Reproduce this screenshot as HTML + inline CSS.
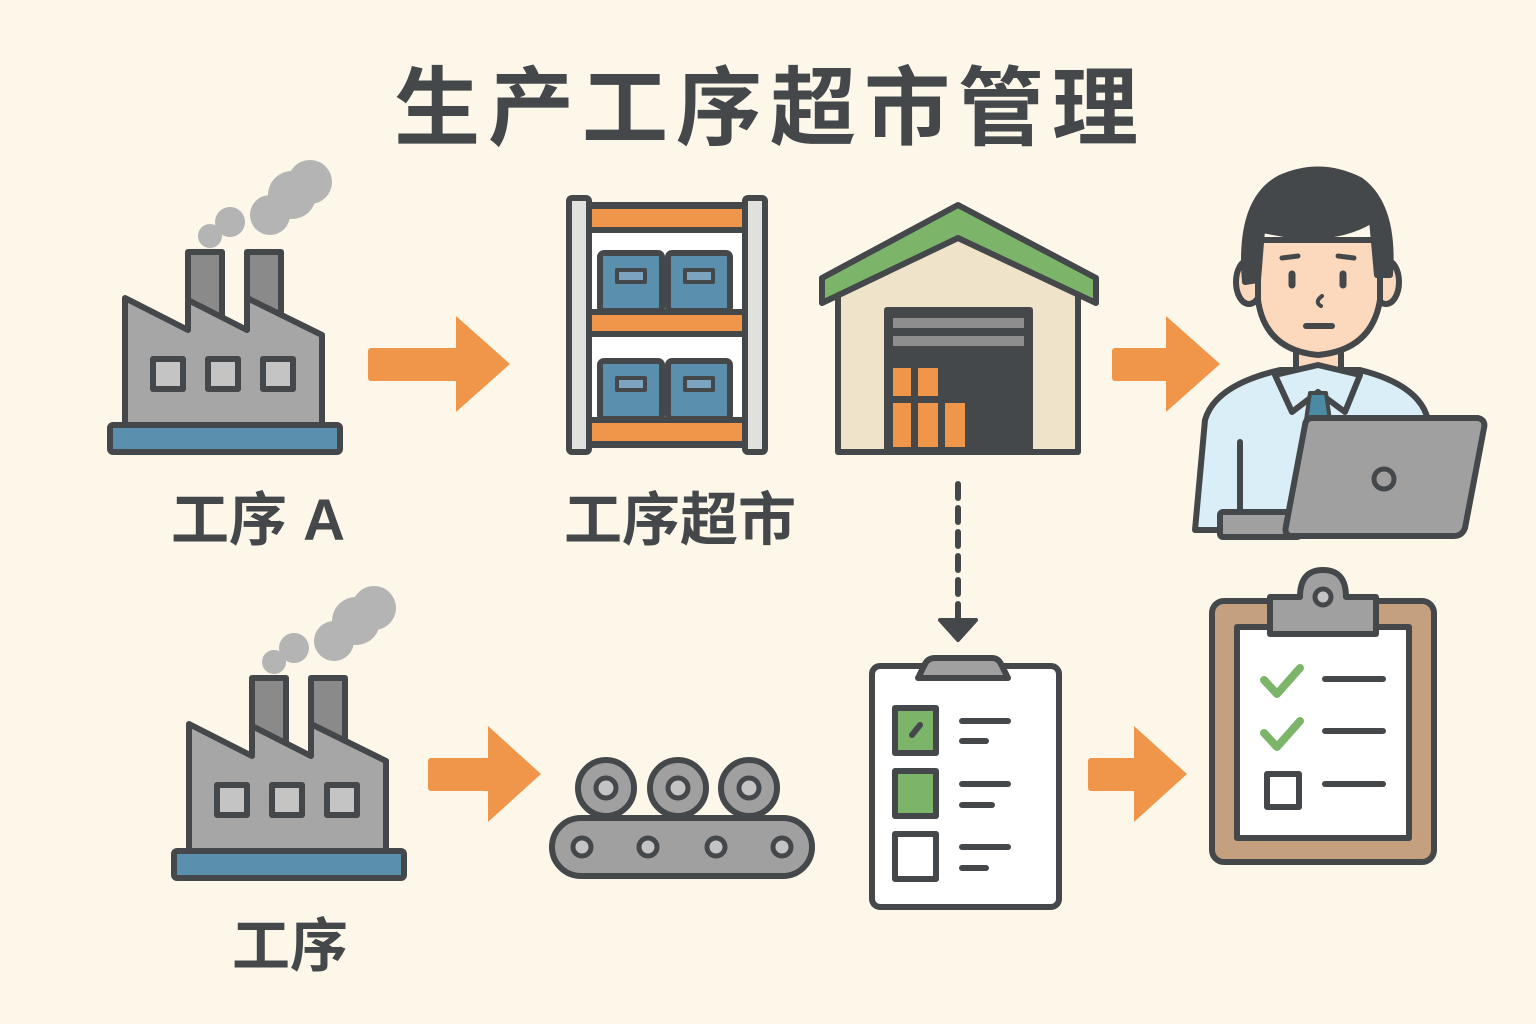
<!DOCTYPE html>
<html><head><meta charset="utf-8"><style>
html,body{margin:0;padding:0;background:#fdf7ea;}
svg{display:block}
text{font-family:"Liberation Sans","Noto Sans CJK SC",sans-serif;font-weight:bold;fill:#44484b}
</style></head><body>
<svg width="1536" height="1024" viewBox="0 0 1536 1024" xmlns="http://www.w3.org/2000/svg">
<rect width="1536" height="1024" fill="#fdf7ea"/>
<text x="770" y="138" font-size="86" text-anchor="middle" letter-spacing="8">生产工序超市管理</text>

<!-- Factory A -->
<g id="fac" stroke="#44484b" stroke-width="6" stroke-linejoin="round">
  <g fill="#b4b4b4" stroke="none">
    <circle cx="210" cy="236" r="12"/><circle cx="230" cy="222" r="15"/>
    <circle cx="270" cy="215" r="20"/><circle cx="292" cy="195" r="24"/><circle cx="310" cy="182" r="22"/>
  </g>
  <rect x="188" y="252" width="34" height="80" fill="#8a8a8a"/>
  <rect x="247" y="252" width="34" height="80" fill="#8a8a8a"/>
  <polygon points="125,425 125,298 188,330 188,300 247,330 247,298 322,335 322,425" fill="#a6a6a6"/>
  <rect x="153" y="359" width="30" height="30" fill="#c4c4c4"/>
  <rect x="208" y="359" width="30" height="30" fill="#c4c4c4"/>
  <rect x="263" y="359" width="30" height="30" fill="#c4c4c4"/>
  <rect x="110" y="425" width="230" height="27" rx="3" fill="#5b8fae"/>
</g>
<text x="258" y="540" font-size="58" text-anchor="middle">工序 A</text>

<!-- arrow1 -->
<g fill="#f0964a">
<rect x="368" y="348" width="95" height="33" rx="3"/><polygon points="456,316 510,364 456,412"/>
<rect x="1112" y="348" width="60" height="33" rx="3"/><polygon points="1166,316 1220,364 1166,412"/>
<rect x="428" y="758" width="65" height="33" rx="3"/><polygon points="488,726 541,774 488,822"/>
<rect x="1088" y="758" width="50" height="33" rx="3"/><polygon points="1134,726 1187,774 1134,822"/>
</g>

<!-- Shelf -->
<g stroke="#44484b" stroke-width="6" stroke-linejoin="round">
  <rect x="589" y="205" width="156" height="240" fill="#fff"/>
  <rect x="569" y="198" width="20" height="254" rx="3" fill="#e0e0dc"/>
  <rect x="745" y="198" width="20" height="254" rx="3" fill="#e0e0dc"/>
  <rect x="589" y="206" width="156" height="24" fill="#f0964a"/>
  <rect x="589" y="312" width="156" height="22" fill="#f0964a"/>
  <rect x="589" y="420" width="156" height="24" fill="#f0964a"/>
  <g fill="#5b8fae">
    <rect x="600" y="253" width="62" height="58" rx="4"/><rect x="668" y="253" width="62" height="58" rx="4"/>
    <rect x="600" y="361" width="62" height="58" rx="4"/><rect x="668" y="361" width="62" height="58" rx="4"/>
  </g>
  <g fill="#7aa4c0" stroke-width="4">
    <rect x="617" y="270" width="28" height="12"/><rect x="685" y="270" width="28" height="12"/>
    <rect x="617" y="378" width="28" height="12"/><rect x="685" y="378" width="28" height="12"/>
  </g>
</g>

<!-- Warehouse -->
<g stroke="#44484b" stroke-width="6" stroke-linejoin="round">
  <polygon points="838,452 838,290 958,230 1078,290 1078,452" fill="#efe3c9"/>
  <polygon points="822,278 958,205 1096,278 1096,303 958,238 822,303" fill="#7cb56a"/>
  <rect x="887" y="310" width="143" height="142" fill="#44484b"/>
  <rect x="893" y="318" width="131" height="10" fill="#8e8e8e" stroke="none"/>
  <rect x="893" y="336" width="131" height="10" fill="#8e8e8e" stroke="none"/>
  <g fill="#f0964a" stroke="none">
    <rect x="893" y="368" width="18" height="28"/><rect x="918" y="368" width="20" height="28"/>
    <rect x="893" y="403" width="18" height="44"/><rect x="918" y="403" width="20" height="44"/><rect x="945" y="403" width="20" height="44"/>
  </g>
</g>
<!-- dashed down -->
<line x1="958" y1="484" x2="958" y2="622" stroke="#44484b" stroke-width="6" stroke-dasharray="14,10" stroke-linecap="round"/>
<polygon points="940,620 976,620 958,640" fill="#44484b" stroke="#44484b" stroke-width="4" stroke-linejoin="round"/>

<!-- Person -->
<g stroke="#44484b" stroke-width="6" stroke-linejoin="round" stroke-linecap="round">
  <path d="M1195,530 L1205,420 Q1215,385 1280,370 L1360,370 Q1420,385 1428,420 L1440,530 Z" fill="#d9eef6"/>
  <rect x="1296" y="335" width="45" height="45" fill="#fcd8bc"/>
  <path d="M1275,375 L1318,365 L1360,375 L1345,412 L1318,392 L1292,412 Z" fill="#d9eef6"/>
  <path d="M1310,393 L1326,393 L1330,420 L1306,420 Z" fill="#4a8ba3" stroke-width="4"/>
  <ellipse cx="1249" cy="282" rx="13" ry="22" fill="#fcd8bc"/>
  <ellipse cx="1386" cy="282" rx="13" ry="22" fill="#fcd8bc"/>
  <path d="M1258,240 L1258,300 Q1265,350 1318,355 Q1372,350 1380,300 L1380,240 Z" fill="#fcd8bc"/>
  <path d="M1245,282 Q1238,200 1280,178 Q1320,160 1360,180 Q1395,205 1390,275 L1377,275 L1372,220 Q1340,240 1290,235 L1262,230 L1258,280 Z" fill="#44484b"/>
  <line x1="1282" y1="258" x2="1298" y2="256" stroke-width="5"/><line x1="1338" y1="256" x2="1354" y2="258" stroke-width="5"/>
  <line x1="1292" y1="274" x2="1292" y2="285" stroke-width="7"/><line x1="1343" y1="274" x2="1343" y2="285" stroke-width="7"/>
  <path d="M1322,296 Q1314,302 1321,306" fill="none" stroke-width="4"/>
  <line x1="1306" y1="326" x2="1332" y2="326" stroke-width="6"/>
  <line x1="1240" y1="442" x2="1240" y2="515" stroke-width="6"/>
  <rect x="1220" y="512" width="80" height="25" rx="3" fill="#a0a0a0"/>
  <path d="M1312,418 L1478,418 Q1486,420 1484,428 L1465,528 Q1462,536 1454,536 L1290,536 Q1284,534 1286,526 L1305,425 Q1306,418 1312,418 Z" fill="#a0a0a0"/>
  <circle cx="1384" cy="479" r="10" fill="#a0a0a0" stroke-width="5"/>
</g>

<!-- Factory 2 -->
<use href="#fac" transform="translate(64,426)"/>
<text x="290" y="966" font-size="58" text-anchor="middle">工序</text>
<text x="680" y="540" font-size="58" text-anchor="middle">工序超市</text>

<!-- Conveyor -->
<g stroke="#44484b" stroke-width="6">
  <rect x="552" y="818" width="260" height="58" rx="29" fill="#a0a0a0"/>
  <g fill="#a0a0a0">
    <circle cx="606" cy="788" r="28"/><circle cx="678" cy="788" r="28"/><circle cx="749" cy="788" r="28"/>
  </g>
  <g fill="#c4c4c4" stroke-width="5">
    <circle cx="606" cy="788" r="10"/><circle cx="678" cy="788" r="10"/><circle cx="749" cy="788" r="10"/>
    <circle cx="582" cy="847" r="9"/><circle cx="648" cy="847" r="9"/><circle cx="716" cy="847" r="9"/><circle cx="782" cy="847" r="9"/>
  </g>
</g>

<!-- Clipboard 1 -->
<g stroke="#44484b" stroke-width="6" stroke-linejoin="round" stroke-linecap="round">
  <rect x="872" y="666" width="187" height="241" rx="8" fill="#fff"/>
  <path d="M918,678 L925,664 Q928,658 935,658 L992,658 Q998,658 1001,664 L1008,678 Z" fill="#a0a0a0"/>
  <rect x="895" y="708" width="41" height="45" fill="#7cb56a"/>
  <line x1="912" y1="735" x2="920" y2="725" stroke-width="6"/>
  <rect x="895" y="771" width="41" height="45" fill="#7cb56a"/>
  <rect x="895" y="834" width="41" height="45" fill="#fff"/>
  <g fill="none">
    <line x1="962" y1="721" x2="1008" y2="721"/><line x1="962" y1="741" x2="986" y2="741"/>
    <line x1="962" y1="784" x2="1008" y2="784"/><line x1="962" y1="805" x2="992" y2="805"/>
    <line x1="962" y1="847" x2="1008" y2="847"/><line x1="962" y1="868" x2="986" y2="868"/>
  </g>
</g>

<!-- Clipboard 2 -->
<g stroke="#44484b" stroke-width="6" stroke-linejoin="round" stroke-linecap="round">
  <rect x="1212" y="601" width="222" height="261" rx="12" fill="#c4a07e"/>
  <rect x="1237" y="627" width="172" height="211" fill="#fff"/>
  <path d="M1300,597 Q1300,570 1323,570 Q1346,570 1346,597 L1376,597 L1376,634 L1270,634 L1270,597 Z" fill="#a0a0a0"/>
  <circle cx="1323" cy="597" r="8" fill="#c4c4c4" stroke-width="5"/>
  <g stroke="#7cb56a" stroke-width="8" fill="none">
    <path d="M1264,680 L1277,694 L1300,668"/><path d="M1264,733 L1277,747 L1300,721"/>
  </g>
  <rect x="1267" y="774" width="32" height="33" fill="#fff"/>
  <line x1="1325" y1="679" x2="1383" y2="679"/><line x1="1325" y1="731" x2="1383" y2="731"/><line x1="1325" y1="784" x2="1383" y2="784"/>
</g>
</svg>
</body></html>
